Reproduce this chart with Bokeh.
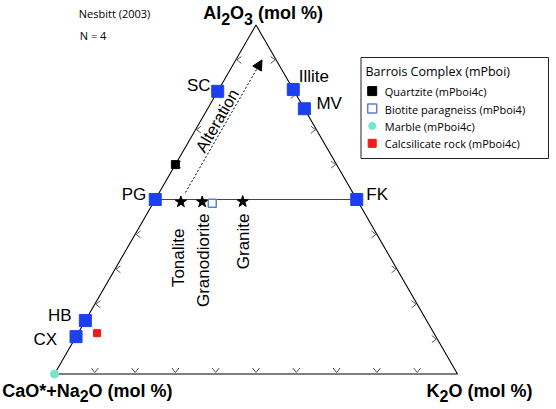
import math
from bokeh.plotting import figure
from bokeh.models import Arrow, NormalHead, Range1d
from bokeh.core.properties import value
from bokeh.embed import file_html
from bokeh.resources import INLINE

# ---------------- data (mol %) : A = Al2O3, K = K2O, CN = 100 - A - K ----------------
mineral_labels = ["SC", "Illite", "MV", "PG", "FK", "HB", "CX"]
mineral_A = [81.0, 81.5, 76.0, 50.0, 50.0, 15.3, 10.7]
mineral_K = [0.0, 18.5, 24.0, 0.0, 50.0, 0.0, 0.0]

rock_labels = ["Tonalite", "Granodiorite", "Granite"]
rock_A = [49.3, 49.3, 49.4]
rock_K = [6.7, 12.0, 22.0]

sample_groups = ["Quartzite (mPboi4c)", "Biotite paragneiss (mPboi4)",
                 "Marble (mPboi4c)", "Calcsilicate rock (mPboi4c)"]
sample_A = [60.0, 48.9, 0.0, 11.7]
sample_K = [0.0, 14.7, 0.0, 4.7]

feldspar_A = [50.0, 50.0]
feldspar_K = [0.0, 50.0]
alteration_A = [52.0, 90.0]
alteration_K = [6.5, 6.5]

tick_values = [10, 20, 30, 40, 50, 60, 70, 80, 90]

legend_title = "Barrois Complex (mPboi)"
source_note = "Nesbitt (2003)"
count_note = "N = 4"

# ---------------- layout ----------------
FIG_W, FIG_H = 556, 409
S = 403.0             # pixels per unit side
OX, OY = 54.0, 373.5  # picture position of the CN vertex
H = math.sqrt(3) / 2
BSHIFT = 0.33         # baseline correction (fraction of font size)


def tx(A, K):
    return K / 100.0 + A / 200.0


def ty(A):
    return A / 100.0 * H


def dx(px):
    return (px - OX) / S


def dy(py):
    return (OY - py) / S


p = figure(width=FIG_W, height=FIG_H, output_backend="svg", toolbar_location=None,
           x_range=Range1d(dx(0), dx(FIG_W)), y_range=Range1d(dy(FIG_H), dy(0)),
           x_axis_type=None, y_axis_type=None, min_border=0,
           outline_line_color=None, background_fill_color="white",
           border_fill_color="white")

FONT = value("Liberation Sans")
NOTE_FONT = value("Open Sans")
u = 1.0 / S


def label(x, y, txt, size, align="left", font=FONT, style="normal", angle=0.0):
    """x, y in data units, y at the desired alphabetic baseline."""
    sh = BSHIFT * size * u
    if angle:
        x = x - sh
    else:
        y = y + sh
    p.text(x=[x], y=[y], text=[txt], text_align=align, text_baseline="alphabetic",
           text_font=font, text_font_style=style, text_font_size=f"{size}px",
           text_color="black", angle=angle)


# triangle frame
tri_A = [0, 0, 100, 0]
tri_K = [0, 100, 0, 0]
p.line([tx(a, k) for a, k in zip(tri_A, tri_K)], [ty(a) for a in tri_A],
       line_color="black", line_width=1.1)

# chevron ticks
x0s, y0s, x1s, y1s = [], [], [], []
for t in tick_values:
    f = t / 100.0
    bx, by = f, 1.5 * u
    for s in (-1, 1):
        x0s.append(bx); y0s.append(by); x1s.append(bx + s * 3.5 * u); y1s.append(by + 4.5 * u)
    lx, ly = tx(t, 0) + 1.0 * u, ty(t)
    for s in (-1, 1):
        x0s.append(lx); y0s.append(ly); x1s.append(lx + 4.5 * u); y1s.append(ly + s * 3.5 * u)
    rx, ry = tx(t, 100 - t) - 1.0 * u, ty(t)
    for s in (-1, 1):
        x0s.append(rx); y0s.append(ry); x1s.append(rx - 4.5 * u); y1s.append(ry + s * 3.5 * u)
p.segment(x0s, y0s, x1s, y1s, line_color="#555555", line_width=1)

# feldspar join
p.line([tx(a, k) for a, k in zip(feldspar_A, feldspar_K)], [ty(a) for a in feldspar_A],
       line_color="#444444", line_width=1)

# alteration arrow
p.add_layout(Arrow(end=NormalHead(size=10, fill_color="black", line_color="black"),
                   x_start=tx(alteration_A[0], alteration_K[0]), y_start=ty(alteration_A[0]),
                   x_end=tx(alteration_A[1], alteration_K[1]), y_end=ty(alteration_A[1]),
                   line_color="black", line_width=1, line_dash="2 2"))
p.text(x=[dx(216.5)], y=[dy(120)], text=["Alteration"], angle=math.pi / 3,
       text_align="center", text_baseline="middle", text_font=FONT,
       text_font_size="16.5px", text_color="black")

# reference mineral squares
BLUE = "#1c3ff2"
mx = [tx(a, k) for a, k in zip(mineral_A, mineral_K)]
my = [ty(a) for a in mineral_A]
p.scatter(mx, my, marker="square", size=12, fill_color=BLUE, line_color=BLUE)

label_offsets = {  # pixel offsets (dx, dy) of the text baseline anchor, alignment
    "SC": (-7.2, 0.0, "right"), "Illite": (5.5, -7.4, "left"), "MV": (12.1, 0.7, "left"),
    "PG": (-9.0, 1.0, "right"), "FK": (9.5, 1.0, "left"), "HB": (-13.8, 0.6, "right"),
    "CX": (-18.9, 8.9, "right"),
}
for name, x, y in zip(mineral_labels, mx, my):
    ox, oy, al = label_offsets[name]
    label(x + ox * u, y - oy * u, name, 17, align=al)

# igneous rocks (stars)
rx_ = [tx(a, k) for a, k in zip(rock_A, rock_K)]
ry_ = [ty(a) for a in rock_A]
p.scatter(rx_, ry_, marker="star", size=12, fill_color="black", line_color="black")
rock_offsets = {"Tonalite": (3.0, 228), "Granodiorite": (6.6, 213), "Granite": (6.1, 213)}
for name, x in zip(rock_labels, rx_):
    ox, top = rock_offsets[name]
    label(x + ox * u, dy(top), name, 17, align="right", angle=math.pi / 2)

# samples
sample_marker = ["square", "square", "circle", "square"]
sample_fill = ["black", "white", "#74e6cc", "#f21a1a"]
sample_line = ["black", "#5b80d8", "#74e6cc", "#f21a1a"]
sample_size = [8, 8, 8, 7]
sample_lw = [1, 1.5, 1, 1]
for i in range(len(sample_groups)):
    p.scatter([tx(sample_A[i], sample_K[i])], [ty(sample_A[i])], marker=sample_marker[i],
              size=sample_size[i], fill_color=sample_fill[i], line_color=sample_line[i],
              line_width=sample_lw[i])

# ---------------- axis titles with subscripts ----------------
ARIAL_BOLD = {'A': 722, 'l': 278, 'O': 778, ' ': 278, '(': 333, 'm': 889, 'o': 611,
              '%': 889, ')': 333, 'C': 722, 'a': 556, '*': 389, '+': 584, 'N': 722,
              'K': 722, '2': 556, '3': 556}


def draw_pieces(parts, x_page, base_page):
    x = x_page
    for txt, size, drop in parts:
        lead = len(txt) - len(txt.lstrip(" "))
        x += lead * ARIAL_BOLD[' '] * size / 1000.0
        txt = txt.lstrip(" ")
        label(dx(x), dy(base_page + drop), txt, size, style="bold")
        x += sum(ARIAL_BOLD[c] for c in txt) * size / 1000.0


draw_pieces([("Al", 18, 0), ("2", 16, 5), ("O", 18, 0), ("3", 16, 5), (" (mol %)", 18, 0)],
            202.7, 18.3)
draw_pieces([("CaO*+Na", 18, 0), ("2", 16, 4), ("O (mol %)", 18, 0)], 1.7, 396.5)
draw_pieces([("K", 18, 0), ("2", 16, 4), ("O (mol %)", 18, 0)], 426.0, 396.5)

# notes
label(dx(78.3), dy(17.0), source_note, 11, font=NOTE_FONT)
label(dx(79.3), dy(38.8), count_note, 11, font=NOTE_FONT)

# ---------------- legend ----------------
LG_L, LG_R, LG_T, LG_B = 360.5, 548.0, 57.0, 158.0
p.quad(left=[dx(LG_L)], right=[dx(LG_R)], top=[dy(LG_T)], bottom=[dy(LG_B)],
       fill_color="white", line_color="#222222", line_width=1)
label(dx(365.0), dy(75.0), legend_title, 12.5, font=NOTE_FONT)
leg_size = [9, 9, 7, 8]
for i, name in enumerate(sample_groups):
    base = 94.8 + 17.4 * i
    p.scatter([dx(371.7)], [dy(base - 4.2)], marker=sample_marker[i], size=leg_size[i],
              fill_color=sample_fill[i], line_color=sample_line[i], line_width=sample_lw[i])
    label(dx(384.3), dy(base), name, 11, font=NOTE_FONT)

open("out.html", "w").write(file_html(p, INLINE))
